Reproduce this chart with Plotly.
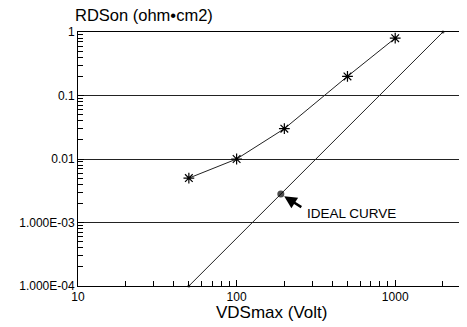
import math
import plotly.graph_objects as go

# Data
meas_x = [50, 100, 200, 500, 1000]
meas_y = [0.005, 0.01, 0.03, 0.2, 0.8]
ideal_x = [50, 190, 2000]
ideal_y = [1e-4, 0.0028, 1]
ytick_alias = {"0.001": "1.000E-03", "0.0001": "1.000E-04"}

FONT = "Liberation Sans, Arial, sans-serif"

fig = go.Figure()
fig.add_trace(go.Scatter(
    x=ideal_x, y=ideal_y, mode="lines+markers",
    line=dict(color="#222", width=1),
    marker=dict(size=[3, 7, 3], color="black", line=dict(width=0)),
    showlegend=False, cliponaxis=False, hoverinfo="skip",
))
fig.add_trace(go.Scatter(
    x=meas_x, y=meas_y, mode="lines+markers",
    line=dict(color="#222", width=1),
    marker=dict(symbol="asterisk-open", size=9, color="black",
                line=dict(color="black", width=1.2)),
    showlegend=False, cliponaxis=False, hoverinfo="skip",
))

# page body has an 8px default margin: size the figure to fit the window
fig.update_layout(
    width=459, height=319,
    margin=dict(l=70, r=2, t=24, b=41),
    paper_bgcolor="white", plot_bgcolor="white",
    font=dict(family=FONT, color="black"),
)
fig.update_xaxes(
    type="log", range=[1, 3.44],
    tickmode="linear", tick0=0, dtick=1, tickformat="~g",
    tickfont=dict(size=12, family=FONT, color="black"),
    showgrid=False, zeroline=False,
    showline=True, linecolor="black", linewidth=1, mirror=True,
    ticks="inside", ticklen=6, tickwidth=1, tickcolor="black",
    minor=dict(tickmode="array",
               tickvals=[m * 10 ** e for e in range(1, 4) for m in range(2, 10)],
               ticks="inside", ticklen=5, tickwidth=1,
               tickcolor="black", showgrid=False),
)
fig.update_yaxes(
    type="log", range=[-4, 0],
    tickmode="linear", tick0=0, dtick=1, tickformat="~g",
    labelalias=ytick_alias,
    tickfont=dict(size=12, family=FONT, color="black"),
    showgrid=True, gridcolor="#222", gridwidth=1,
    zeroline=False,
    showline=True, linecolor="black", linewidth=1, mirror=True,
    ticks="inside", ticklen=6, tickwidth=1, tickcolor="black",
    minor=dict(tickmode="array",
               tickvals=[m * 10.0 ** e for e in range(-4, 0) for m in range(2, 10)],
               ticks="inside", ticklen=5, tickwidth=1,
               tickcolor="black", showgrid=False),
)

fig.add_annotation(
    text="RDSon (ohm•cm2)", xref="paper", yref="paper",
    x=-0.013, y=1.065, xanchor="left", yanchor="middle",
    showarrow=False, font=dict(size=16.5, family=FONT),
)
fig.add_annotation(
    text="VDSmax (Volt)", xref="paper", yref="paper",
    x=0.5, y=-0.106, xanchor="center", yanchor="middle",
    showarrow=False, font=dict(size=17, family=FONT),
)
px_ = math.log10(ideal_x[1])
py_ = math.log10(ideal_y[1])
fig.add_annotation(
    text="IDEAL CURVE", xref="x", yref="y", x=px_, y=py_,
    xanchor="left", yanchor="middle", xshift=24, yshift=-19,
    showarrow=False, font=dict(size=13.5, family=FONT),
)
fig.add_annotation(
    text="", xref="x", yref="y", x=px_, y=py_,
    showarrow=True, ax=22, ay=14, arrowhead=2, arrowsize=1,
    arrowwidth=2.5, arrowcolor="black", standoff=4,
)

fig.write_html("out.html", config={"displayModeBar": False})
